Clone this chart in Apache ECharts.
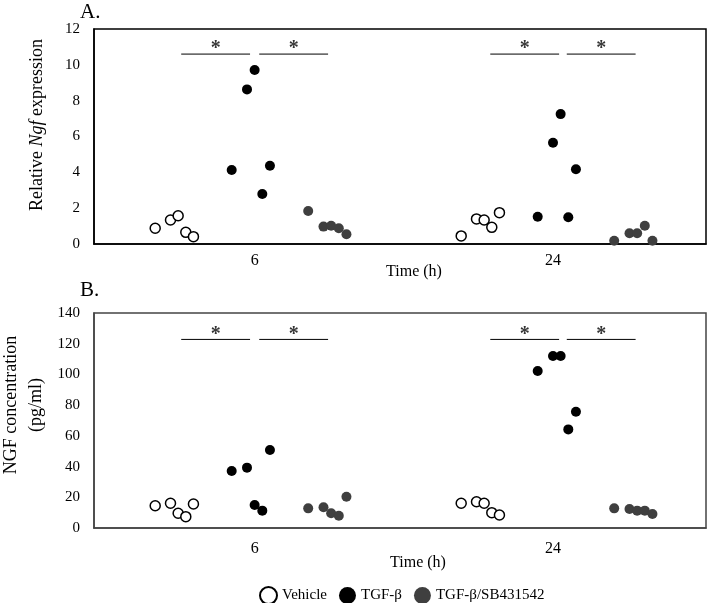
<!DOCTYPE html>
<html>
<head>
<meta charset="utf-8">
<script src="https://cdn.jsdelivr.net/npm/echarts@6/dist/echarts.min.js"></script>
<style>html,body{margin:0;padding:0;background:#fff}#c{width:708px;height:603px}</style>
</head>
<body>
<div id="c"></div>
<script>
// ---- data ----
const timeLabels = ['6', '24'];
const timeTickX = [1.05, 3.0];
const seriesNames = ['Vehicle', 'TGF-β', 'TGF-β/SB431542'];

// x jitter positions (6 h group then 24 h group)
const vehicleX = [0.40, 0.50, 0.55, 0.60, 0.65, 2.40, 2.50, 2.55, 2.60, 2.65];
const tgfX     = [0.90, 1.00, 1.05, 1.10, 1.15, 2.90, 3.00, 3.05, 3.10, 3.15];
const sbX      = [1.40, 1.50, 1.55, 1.60, 1.65, 3.40, 3.50, 3.55, 3.60, 3.65];

// Panel A: relative Ngf expression
const vehicleA = [0.88, 1.34, 1.58, 0.65, 0.41, 0.45, 1.40, 1.34, 0.93, 1.75];
const tgfA     = [4.13, 8.63, 9.71, 2.79, 4.37, 1.52, 5.65, 7.25, 1.49, 4.17];
const sbA      = [1.84, 0.97, 1.02, 0.88, 0.54, 0.18, 0.60, 0.60, 1.02, 0.18];

// Panel B: NGF concentration (pg/ml)
const vehicleB = [14.5, 16.1, 9.6, 7.4, 15.6, 16.1, 17.1, 16.1, 10.0, 8.5];
const tgfB     = [37.1, 39.3, 15.0, 11.3, 50.8, 102.2, 112.0, 112.0, 64.2, 75.7];
const sbB      = [12.8, 13.5, 9.6, 8.0, 20.4, 12.8, 12.4, 11.3, 11.3, 9.1];

// significance brackets: [xStart, xEnd]
const sigSpans = [[0.57, 1.02], [1.08, 1.53], [2.59, 3.04], [3.09, 3.54]];
const sigLevelA = 10.6;
const sigLevelB = 122.8;

// ---- chart ----
const FONT = 'Liberation Serif';
const zip = (xs, ys) => xs.map((x, i) => [x, ys[i]]);

function pointSeries(gi, name, xs, ys, style) {
  return {
    type: 'scatter', name: name, xAxisIndex: gi, yAxisIndex: gi,
    symbol: 'circle', symbolSize: 10,
    itemStyle: Object.assign({opacity: 1}, style), emphasis: {disabled: true},
    data: zip(xs, ys), z: 5
  };
}
function sigSeries(gi, level, starOffset) {
  return [{
    type: 'line', xAxisIndex: gi, yAxisIndex: gi, silent: true,
    symbol: 'none', showSymbol: false, connectNulls: false,
    lineStyle: {color: '#000', width: 1},
    data: sigSpans.flatMap(s => [[s[0], level], [s[1], level], '-'])
  }, {
    type: 'scatter', xAxisIndex: gi, yAxisIndex: gi, silent: true,
    symbolSize: 0,
    label: {show: true, position: 'inside', formatter: '*', color: '#000',
            fontFamily: FONT, fontSize: 20, fontWeight: 'bold', offset: [0, starOffset]},
    data: sigSpans.map(s => [(s[0] + s[1]) / 2, level])
  }];
}

const vehStyle = {color: '#fff', borderColor: '#000', borderWidth: 1.5};
const tgfStyle = {color: '#000'};
const sbStyle = {color: '#3f3f3f'};

function xAxisCfg(gi, color, margin) {
  return {
    type: 'value', gridIndex: gi, min: 0, max: 4,
    axisLine: {show: true, lineStyle: {color: color, width: 1.5}},
    axisTick: {show: false}, splitLine: {show: false},
    axisLabel: {
      show: true, customValues: timeTickX, margin: margin,
      fontFamily: FONT, fontSize: 16, color: '#000',
      formatter: v => {
        let best = 0;
        timeTickX.forEach((t, i) => { if (Math.abs(t - v) < Math.abs(timeTickX[best] - v)) best = i; });
        return timeLabels[best];
      }
    }
  };
}
function yAxisCfg(gi, max, interval, color) {
  return {
    type: 'value', gridIndex: gi, min: 0, max: max, interval: interval,
    axisLine: {show: true, lineStyle: {color: color, width: 1.5}},
    axisTick: {show: false}, splitLine: {show: false},
    axisLabel: {fontFamily: FONT, fontSize: 15, color: '#000', margin: 14}
  };
}

const option = {
  animation: false,
  backgroundColor: '#fff',
  grid: [
    {left: 94, top: 29, width: 612, height: 215, show: true, borderColor: '#000', borderWidth: 1.5, backgroundColor: 'transparent'},
    {left: 94, top: 313, width: 612, height: 215, show: true, borderColor: '#444', borderWidth: 1.5, backgroundColor: 'transparent'}
  ],
  xAxis: [xAxisCfg(0, '#000', 9), xAxisCfg(1, '#444', 13)],
  yAxis: [yAxisCfg(0, 12, 2, '#000'), yAxisCfg(1, 140, 20, '#444')],
  legend: {
    data: seriesNames.map(n => ({name: n, icon: 'circle'})),
    left: 254, top: 581, itemWidth: 17, itemHeight: 17, itemGap: 12,
    textStyle: {fontFamily: FONT, fontSize: 15, color: '#000'},
    selectedMode: false
  },
  graphic: [
    {type: 'text', left: 80, top: 2, style: {text: 'A.', font: '21px "Liberation Serif"', fill: '#000'}},
    {type: 'text', left: 80, top: 280, style: {text: 'B.', font: '21px "Liberation Serif"', fill: '#000'}},
    {type: 'text', x: 37, y: 125, rotation: Math.PI / 2,
     style: {text: '{a|Relative }{b|Ngf}{a| expression}', align: 'center', verticalAlign: 'middle',
             rich: {a: {fontFamily: FONT, fontSize: 18, fill: '#000'},
                    b: {fontFamily: FONT, fontSize: 18, fontStyle: 'italic', fill: '#000'}}}},
    {type: 'text', x: 24, y: 405, rotation: Math.PI / 2,
     style: {text: 'NGF concentration\n(pg/ml)', align: 'center', verticalAlign: 'middle',
             font: '18px "Liberation Serif"', lineHeight: 25, fill: '#000'}},
    {type: 'text', x: 414, y: 272, style: {text: 'Time (h)', align: 'center', verticalAlign: 'middle', font: '16px "Liberation Serif"', fill: '#000'}},
    {type: 'text', x: 418, y: 563, style: {text: 'Time (h)', align: 'center', verticalAlign: 'middle', font: '16px "Liberation Serif"', fill: '#000'}}
  ],
  series: [
    pointSeries(0, seriesNames[0], vehicleX, vehicleA, vehStyle),
    pointSeries(0, seriesNames[1], tgfX, tgfA, tgfStyle),
    pointSeries(0, seriesNames[2], sbX, sbA, sbStyle),
    pointSeries(1, seriesNames[0], vehicleX, vehicleB, vehStyle),
    pointSeries(1, seriesNames[1], tgfX, tgfB, tgfStyle),
    pointSeries(1, seriesNames[2], sbX, sbB, sbStyle),
    ...sigSeries(0, sigLevelA, -5),
    ...sigSeries(1, sigLevelB, -5)
  ]
};

const chart = echarts.init(document.getElementById('c'), null, {renderer: 'canvas'});
chart.setOption(option);
</script>
</body>
</html>
